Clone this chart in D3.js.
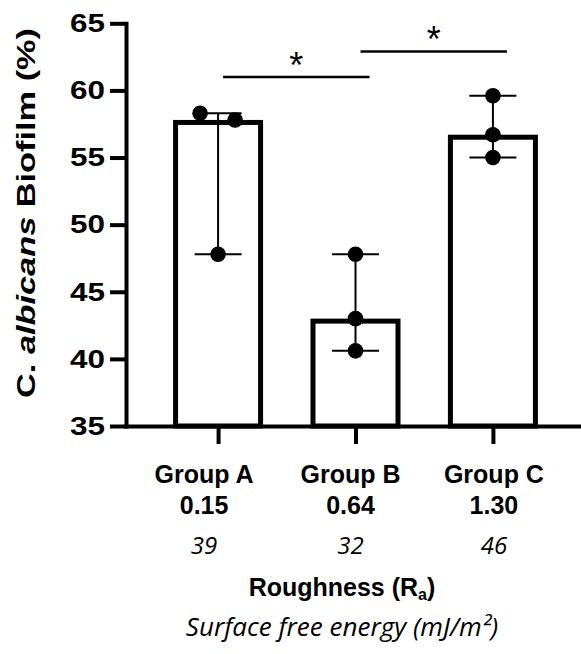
<!DOCTYPE html>
<html lang="en">
<head>
    <meta charset="UTF-8">
    <title>C. albicans biofilm</title>
    <script src="https://d3js.org/d3.v7.min.js"></script>
    <style>
        body { margin: 0; background: #fff; }
        text { font-family: 'Liberation Sans', Arial, sans-serif; fill: #000; }
        .bold { font-weight: bold; }
        .it { font-family: 'Open Sans', sans-serif; font-style: italic; }
    </style>
</head>
<body>
<script>
    // data
    const groups = ['Group A', 'Group B', 'Group C'];
    const roughness = ['0.15', '0.64', '1.30'];
    const surfaceEnergy = ['39', '32', '46'];
    const groupAValues = [58.3, 57.8, 47.8];
    const groupBValues = [47.8, 43.0, 40.6];
    const groupCValues = [59.6, 56.7, 55.0];
    const medians = [57.8, 43.0, 56.7];
    const yTicks = [35, 40, 45, 50, 55, 60, 65];
    const sigPairs = [['Group A', 'Group B'], ['Group B', 'Group C']];
    const sigLevels = [61.0, 62.9];
    const sigLabels = ['*', '*'];

    const width = 581;
    const height = 654;
    const barWidth = 85;
    const dotJitter = [[-18, 17, 0], [0, 0, 0], [0, 0, 0]];
    const labelShift = [-14, -5, 1];

    const replicates = [groupAValues, groupBValues, groupCValues];

    const svg = d3.select("body").append("svg").attr("width", width).attr("height", height);

    const y = d3.scaleLinear().domain([35, 65]).range([426, 23.3]);
    const x = d3.scalePoint().domain(groups).range([126, 585]).padding(0.67);

    // bars (outer edge sits on the median)
    svg.selectAll("rect.bar")
        .data(groups)
        .enter()
        .append("rect")
        .attr("class", "bar")
        .attr("x", d => x(d) - barWidth / 2)
        .attr("y", (d, i) => y(medians[i]) + 2.5)
        .attr("width", barWidth)
        .attr("height", (d, i) => y(35) - y(medians[i]) - 2.5)
        .style("fill", "#fff")
        .style("stroke", "#000")
        .style("stroke-width", 5);

    // range error bars
    const err = svg.append("g").style("stroke", "#000").style("stroke-width", 2);
    groups.forEach((g, i) => {
        const [lo, hi] = d3.extent(replicates[i]);
        err.append("line").attr("x1", x(g)).attr("x2", x(g)).attr("y1", y(hi)).attr("y2", y(lo));
        [lo, hi].forEach(v => {
            err.append("line").attr("x1", x(g) - 23.5).attr("x2", x(g) + 23.5)
                .attr("y1", y(v)).attr("y2", y(v));
        });
    });

    // replicate dots
    groups.forEach((g, i) => {
        svg.selectAll("circle.g" + i)
            .data(replicates[i])
            .enter()
            .append("circle")
            .attr("class", "g" + i)
            .attr("cx", (d, j) => x(g) + dotJitter[i][j])
            .attr("cy", d => y(d))
            .attr("r", 7.8)
            .style("fill", "#000");
    });

    // axes
    const yAxis = svg.append("g")
        .attr("transform", "translate(126,0)")
        .call(d3.axisLeft(y).tickValues(yTicks).tickSize(16).tickSizeOuter(0).tickPadding(5));
    const xAxis = svg.append("g")
        .attr("transform", "translate(0,426)")
        .call(d3.axisBottom(x).tickSize(18).tickSizeOuter(0).tickFormat(""));

    [yAxis, xAxis].forEach(a => {
        a.select(".domain").style("stroke", "#000").style("stroke-width", 4).style("stroke-linecap", "square");
        a.selectAll(".tick line").style("stroke", "#000").style("stroke-width", 4);
    });
    yAxis.selectAll(".tick text")
        .attr("class", "bold")
        .attr("textLength", 35)
        .attr("lengthAdjust", "spacingAndGlyphs")
        .style("font-size", "26px")
        .style("font-family", "'Liberation Sans', Arial, sans-serif")
        .attr("fill", "#000");

    // category labels
    const labels = svg.append("g").attr("text-anchor", "middle");
    groups.forEach((g, i) => {
        const cx = x(g) + labelShift[i];
        labels.append("text").attr("class", "bold").attr("x", cx).attr("y", 483)
            .style("font-size", "25px").text(g);
        labels.append("text").attr("class", "bold").attr("x", cx).attr("y", 514)
            .style("font-size", "25px").text(roughness[i]);
        labels.append("text").attr("class", "it").attr("x", cx).attr("y", 554)
            .style("font-size", "24px").text(surfaceEnergy[i]);
    });

    // significance bars
    sigPairs.forEach((p, i) => {
        const x1 = x(p[0]) + 5, x2 = x(p[1]) + 14;
        svg.append("line")
            .attr("x1", x1).attr("x2", x2)
            .attr("y1", y(sigLevels[i])).attr("y2", y(sigLevels[i]))
            .style("stroke", "#000").style("stroke-width", 2.5);
        svg.append("text")
            .attr("x", (x1 + x2) / 2)
            .attr("y", y(sigLevels[i]) + 1)
            .attr("text-anchor", "middle")
            .style("font-size", "36px")
            .text(sigLabels[i]);
    });

    // axis titles
    const rough = svg.append("text").attr("class", "bold").attr("x", 342).attr("y", 596)
        .attr("text-anchor", "middle").style("font-size", "25px");
    rough.append("tspan").text("Roughness (R");
    rough.append("tspan").attr("dy", 4).style("font-size", "16px").text("a");
    rough.append("tspan").attr("dy", -4).text(")");

    svg.append("text").attr("class", "it").attr("x", 342).attr("y", 636)
        .attr("text-anchor", "middle").style("font-size", "26px")
        .text("Surface free energy (mJ/m²)");

    const yTitle = svg.append("text").attr("class", "bold")
        .attr("transform", "translate(35,213) rotate(-90)")
        .attr("text-anchor", "middle")
        .attr("textLength", 370)
        .attr("lengthAdjust", "spacingAndGlyphs")
        .style("font-size", "25px");
    yTitle.append("tspan").text("C. ");
    yTitle.append("tspan").style("font-style", "italic").text("albicans");
    yTitle.append("tspan").text(" Biofilm (%)");
</script>
</body>
</html>
